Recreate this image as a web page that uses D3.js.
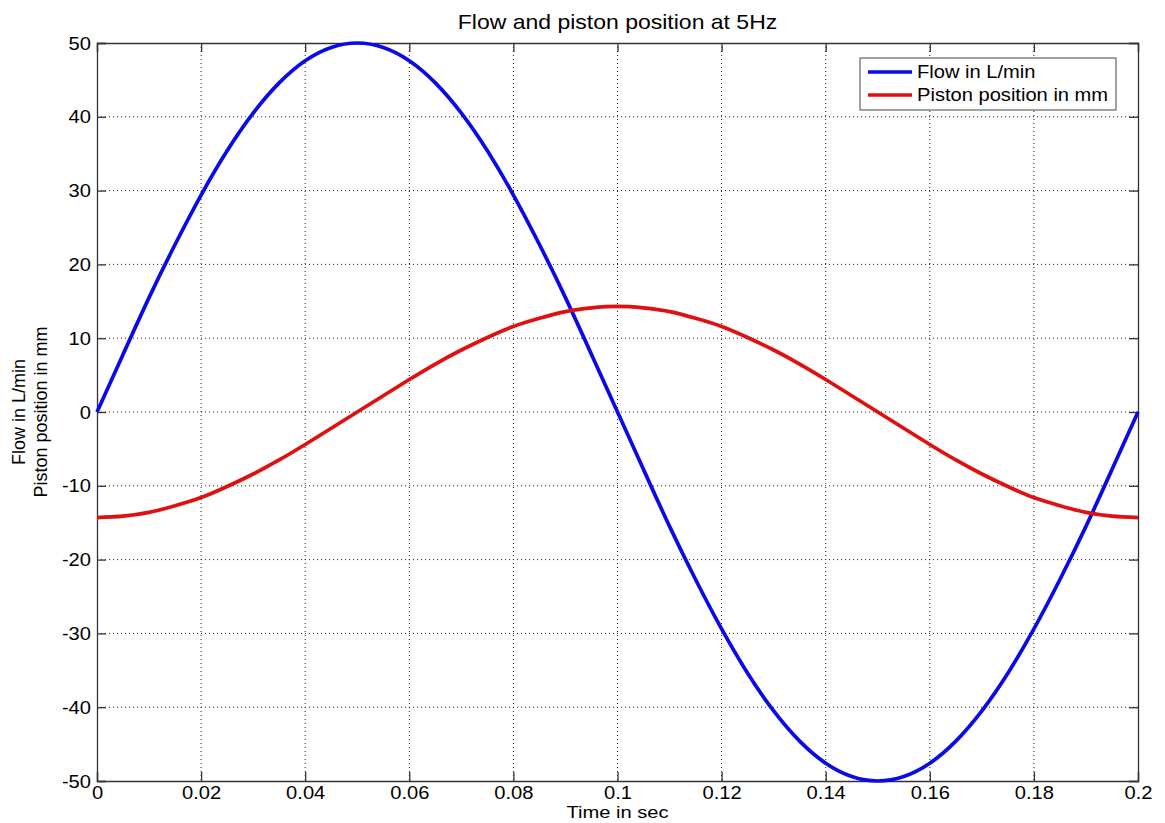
<!DOCTYPE html>
<html>
<head>
<meta charset="utf-8">
<script src="https://cdn.jsdelivr.net/npm/d3@7"></script>
<style>
  body { margin: 0; background: #fff; }
  svg text { font-family: "Liberation Sans", Arial, Helvetica, sans-serif; fill: #000; }
</style>
</head>
<body>
<svg width="1165" height="823"></svg>
<script>
// time axis samples, seconds
const timeSec = [0, 0.005, 0.01, 0.015, 0.02, 0.025, 0.03, 0.035, 0.04, 0.045,
  0.05, 0.055, 0.06, 0.065, 0.07, 0.075, 0.08, 0.085, 0.09, 0.095,
  0.1, 0.105, 0.11, 0.115, 0.12, 0.125, 0.13, 0.135, 0.14, 0.145,
  0.15, 0.155, 0.16, 0.165, 0.17, 0.175, 0.18, 0.185, 0.19, 0.195, 0.2]

// Flow in L/min
const flow = [0, 7.8, 15.5, 22.7, 29.4, 35.4, 40.5, 44.6, 47.6, 49.4,
  50, 49.4, 47.6, 44.6, 40.5, 35.4, 29.4, 22.7, 15.5, 7.8,
  0, -7.8, -15.5, -22.7, -29.4, -35.4, -40.5, -44.6, -47.6, -49.4,
  -50, -49.4, -47.6, -44.6, -40.5, -35.4, -29.4, -22.7, -15.5, -7.8, 0]

// Piston position in mm
const piston = [-14.3, -14.1, -13.6, -12.7, -11.6, -10.1, -8.4, -6.5, -4.4, -2.2,
  0, 2.2, 4.4, 6.5, 8.4, 10.1, 11.6, 12.7, 13.6, 14.1,
  14.3, 14.1, 13.6, 12.7, 11.6, 10.1, 8.4, 6.5, 4.4, 2.2,
  0, -2.2, -4.4, -6.5, -8.4, -10.1, -11.6, -12.7, -13.6, -14.1, -14.3]

const xTicks = [0, 0.02, 0.04, 0.06, 0.08, 0.1, 0.12, 0.14, 0.16, 0.18, 0.2]
const yTicks = [-50, -40, -30, -20, -10, 0, 10, 20, 30, 40, 50]
const seriesNames = ["Flow in L/min", "Piston position in mm"]

const svg = d3.select("svg")
const mLeft = 97, mTop = 43, w = 1041, h = 738
const fs = 17.5, sx = 1.15  // the picture is a bit stretched sideways

const x = d3.scaleLinear().domain([0, 0.2]).range([0, w])
const y = d3.scaleLinear().domain([-50, 50]).range([h, 0])

const g = svg.append("g").attr("transform", `translate(${mLeft},${mTop})`)

// dotted grid
g.append("g").selectAll("line").data(xTicks.slice(1, -1)).join("line")
  .attr("x1", d => x(d)).attr("x2", d => x(d)).attr("y1", 0).attr("y2", h)
  .attr("stroke", "#222").attr("stroke-width", 1).attr("stroke-dasharray", "1,3")
g.append("g").selectAll("line").data(yTicks.slice(1, -1)).join("line")
  .attr("y1", d => y(d)).attr("y2", d => y(d)).attr("x1", 0).attr("x2", w)
  .attr("stroke", "#222").attr("stroke-width", 1).attr("stroke-dasharray", "1,3")

// axes, ticks pointing inward on all four sides
const fmt = d => String(+d.toFixed(2))
const axB = g.append("g").attr("transform", `translate(0,${h})`)
  .call(d3.axisBottom(x).tickValues(xTicks).tickSize(-9).tickPadding(10).tickFormat(fmt))
const axL = g.append("g")
  .call(d3.axisLeft(y).tickValues(yTicks).tickSize(-9).tickPadding(6).tickFormat(fmt))
g.append("g").call(d3.axisTop(x).tickValues(xTicks).tickSize(-9).tickFormat(""))
g.append("g").attr("transform", `translate(${w},0)`)
  .call(d3.axisRight(y).tickValues(yTicks).tickSize(-9).tickFormat(""))

g.selectAll(".domain").attr("stroke", "#333").attr("stroke-width", 1.3)
g.selectAll(".tick line").attr("stroke", "#333").attr("stroke-width", 1.3)
g.selectAll(".tick text").attr("font-size", fs).attr("fill", "#000")
axB.selectAll(".tick text").attr("y", 0).attr("dy", 0)
  .attr("transform", `translate(0,18) scale(${sx},1)`)
axL.selectAll(".tick text").attr("x", 0).attr("dy", "0.35em")
  .attr("transform", `translate(-6,0) scale(${sx},1)`)

// curves
const clip = svg.append("clipPath").attr("id", "plotArea")
clip.append("rect").attr("x", -2).attr("y", -2).attr("width", w + 4).attr("height", h + 4)

const line = vals => d3.line()
  .x((d, i) => x(timeSec[i]))
  .y(d => y(d))
  .curve(d3.curveNatural)(vals)

const colors = ["#0a0ae6", "#e01010"]
g.append("g").attr("clip-path", "url(#plotArea)")
  .selectAll("path").data([flow, piston]).join("path")
  .attr("d", d => line(d))
  .attr("fill", "none")
  .attr("stroke", (d, i) => colors[i])
  .attr("stroke-width", 3.7)
  .attr("stroke-linejoin", "round")

// legend
const lg = svg.append("g").attr("transform", "translate(860,58)")
lg.append("rect").attr("width", 256).attr("height", 52)
  .attr("fill", "#fff").attr("stroke", "#444").attr("stroke-width", 1)
seriesNames.forEach((name, i) => {
  const yy = 14 + i * 23
  lg.append("line").attr("x1", 8).attr("x2", 52).attr("y1", yy).attr("y2", yy)
    .attr("stroke", colors[i]).attr("stroke-width", 3.5)
  lg.append("text").attr("transform", `translate(57,${yy}) scale(${sx},1)`)
    .attr("dy", "0.35em").attr("font-size", fs).text(name)
})

// titles
svg.append("text")
  .attr("transform", `translate(${mLeft + w / 2},29) scale(${sx},1)`)
  .attr("text-anchor", "middle").attr("font-size", 20).text("Flow and piston position at 5Hz")
svg.append("text")
  .attr("transform", `translate(${mLeft + w / 2},818) scale(${sx * 1.03},1)`)
  .attr("text-anchor", "middle").attr("font-size", 17).text("Time in sec")
const yl = svg.append("text")
  .attr("transform", `translate(25,${mTop + h / 2}) rotate(-90)`)
  .attr("text-anchor", "middle").attr("font-size", 18)
yl.append("tspan").attr("x", 0).attr("dy", 0).text("Flow in L/min")
yl.append("tspan").attr("x", 0).attr("dy", "1.2em").text("Piston position in mm")
</script>
</body>
</html>
